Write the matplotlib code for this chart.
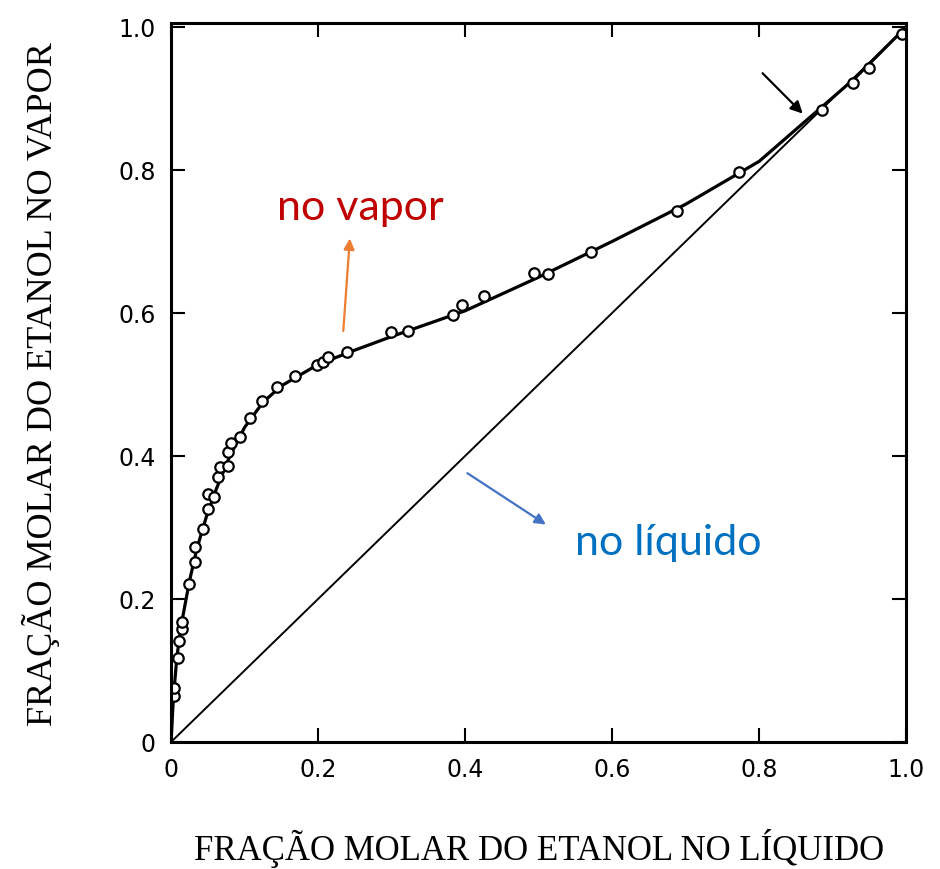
import numpy as np
import matplotlib.pyplot as plt

# experimental points, ethanol mole fraction: liquid (x) vs vapour (y)
x_liq = [0.004, 0.004, 0.009, 0.011, 0.015, 0.015, 0.025, 0.033, 0.032, 0.043,
         0.050, 0.050, 0.058, 0.064, 0.067, 0.078, 0.078, 0.082, 0.094, 0.108,
         0.124, 0.144, 0.169, 0.199, 0.206, 0.214, 0.240, 0.299, 0.322, 0.383,
         0.396, 0.426, 0.494, 0.513, 0.571, 0.688, 0.772, 0.886, 0.928, 0.950,
         0.995]
y_vap = [0.065, 0.076, 0.117, 0.141, 0.158, 0.168, 0.221, 0.252, 0.273, 0.298,
         0.326, 0.347, 0.343, 0.371, 0.385, 0.386, 0.405, 0.418, 0.427, 0.453,
         0.477, 0.496, 0.512, 0.527, 0.531, 0.538, 0.545, 0.573, 0.575, 0.597,
         0.611, 0.624, 0.656, 0.655, 0.685, 0.743, 0.797, 0.884, 0.922, 0.943,
         0.990]

# hand-drawn equilibrium curve
curve_x = [0.0, 0.003, 0.008, 0.015, 0.025, 0.035, 0.048, 0.062, 0.08, 0.10,
           0.125, 0.15, 0.20, 0.25, 0.30, 0.40, 0.50, 0.60, 0.70, 0.80,
           0.865, 0.93, 1.0]
curve_y = [0.0, 0.06, 0.12, 0.17, 0.225, 0.27, 0.315, 0.355, 0.40, 0.44,
           0.475, 0.498, 0.528, 0.548, 0.567, 0.603, 0.650, 0.700, 0.752, 0.812,
           0.870, 0.928, 1.0]

ticks = [0, 0.2, 0.4, 0.6, 0.8, 1.0]
tick_labels = ['0', '0.2', '0.4', '0.6', '0.8', '1.0']

fig = plt.figure(figsize=(9.4, 8.7), dpi=100)
ax = fig.add_axes([0.182, 0.146, 0.782, 0.826])

ax.plot([0, 1], [0, 1], color='black', lw=1.4)
ax.plot(curve_x, curve_y, color='black', lw=2.3)
ax.plot(x_liq, y_vap, 'o', ms=7.5, mfc='white', mec='black', mew=1.6)

ax.set_xlim(0, 1.0)
ax.set_ylim(0, 1.005)
ax.set_xticks(ticks)
ax.set_xticklabels(tick_labels)
ax.set_yticks(ticks)
ax.set_yticklabels(tick_labels)
ax.tick_params(direction='in', length=10, width=1.5, labelsize=17, pad=11,
               top=True, right=True)
for s in ax.spines.values():
    s.set_linewidth(2.2)

ax.set_xlabel('FRAÇÃO MOLAR DO ETANOL NO LÍQUIDO', family='Liberation Serif',
              fontsize=25, labelpad=34)
ax.set_ylabel('FRAÇÃO MOLAR DO ETANOL NO VAPOR', family='Liberation Serif',
              fontsize=26, labelpad=42)

# azeotrope marker arrow
ax.annotate('', xy=(0.862, 0.876), xytext=(0.802, 0.938),
            arrowprops=dict(arrowstyle='-|>', color='black', lw=1.6,
                            mutation_scale=18))

ax.annotate('', xy=(0.2435, 0.708), xytext=(0.234, 0.571),
            arrowprops=dict(arrowstyle='-|>', color='#ED7D31', lw=1.6,
                            mutation_scale=16))
ax.text(0.257, 0.748, 'no vapor', color='#C00000', fontsize=31,
        family='Lato', ha='center', va='center')

ax.annotate('', xy=(0.513, 0.302), xytext=(0.400, 0.378),
            arrowprops=dict(arrowstyle='-|>', color='#4472C4', lw=1.6,
                            mutation_scale=16))
ax.text(0.676, 0.280, 'no líquido', color='#0070C0', fontsize=31,
        family='Lato', ha='center', va='center')

fig.savefig('out.png', dpi=100)
